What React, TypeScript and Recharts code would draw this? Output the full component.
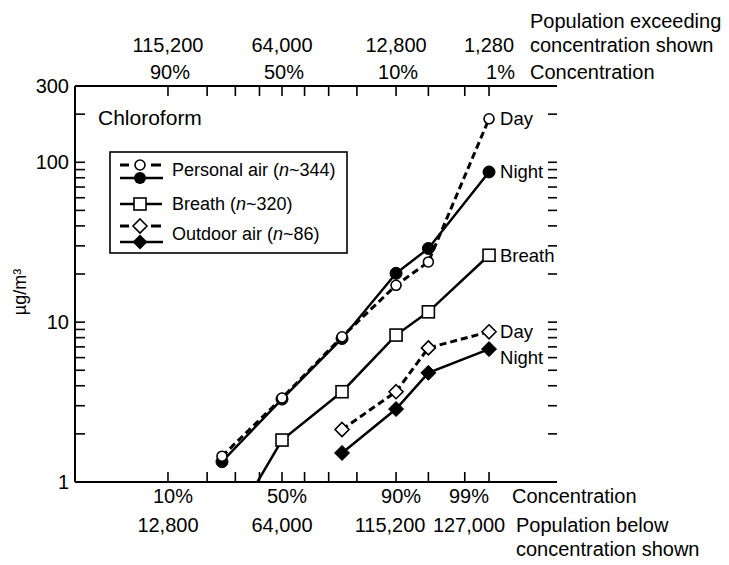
import React from 'react'
import { LineChart, Line, XAxis, YAxis, Legend, LabelList } from 'recharts'

// cumulative percentiles at which each series was sampled
const pcts = [25, 50, 75, 90, 95, 99]
const outdoorPcts = [75, 90, 95, 99]

// chloroform, µg/m3
const personalDay = [1.45, 3.35, 8.1, 17, 23.8, 187]
const personalNight = [1.34, 3.3, 7.9, 20.2, 28.9, 87]
const breath = [0.42, 1.83, 3.67, 8.3, 11.6, 26.2]
const outdoorDay = [2.13, 3.67, 6.9, 8.7]
const outdoorNight = [1.52, 2.86, 4.82, 6.78]

// probability axis
const probTicks = [10, 20, 30, 40, 50, 60, 70, 80, 90, 95, 98, 99]
const probLabeled = [10, 50, 90, 99]
const belowPctLabels = ['10%', '50%', '90%', '99%']
const belowPopLabels = ['12,800', '64,000', '115,200', '127,000']
const abovePctLabels = ['90%', '50%', '10%', '1%']
const abovePopLabels = ['115,200', '64,000', '12,800', '1,280']

// concentration axis
const concTicks = [1, 2, 3, 4, 5, 6, 7, 8, 9, 10, 20, 30, 40, 50, 60, 70, 80, 90, 100, 200, 300]
const concLabeled = [1, 10, 100, 300]

const FONT = '"Liberation Sans", Arial, Helvetica, sans-serif'

// inverse normal CDF (Acklam's rational approximation)
function probit(p: number): number {
  const a = [-3.969683028665376e1, 2.209460984245205e2, -2.759285104469687e2, 1.38357751867269e2, -3.066479806614716e1, 2.506628277459239]
  const b = [-5.447609879822406e1, 1.615858368580409e2, -1.556989798598866e2, 6.680131188771972e1, -1.328068155288572e1]
  const c = [-7.784894002430293e-3, -3.223964580411365e-1, -2.400758277161838, -2.549732539343734, 4.374664141464968, 2.938163982698783]
  const d = [7.784695709041462e-3, 3.224671290700398e-1, 2.445134137142996, 3.754408661907416]
  const tail = (q: number) =>
    (((((c[0] * q + c[1]) * q + c[2]) * q + c[3]) * q + c[4]) * q + c[5]) /
    ((((d[0] * q + d[1]) * q + d[2]) * q + d[3]) * q + 1)
  if (p < 0.02425) return tail(Math.sqrt(-2 * Math.log(p)))
  if (p > 1 - 0.02425) return -tail(Math.sqrt(-2 * Math.log(1 - p)))
  const q = p - 0.5
  const r = q * q
  return ((((((a[0] * r + a[1]) * r + a[2]) * r + a[3]) * r + a[4]) * r + a[5]) * q) /
    (((((b[0] * r + b[1]) * r + b[2]) * r + b[3]) * r + b[4]) * r + 1)
}

const Z_MIN = probit(0.01)
const Z_MAX = probit(0.999)
const probTickZ = probTicks.map((p) => probit(p / 100))

const rows = (ps: number[], vs: number[]) => ps.map((p, i) => ({ z: probit(p / 100), v: vs[i] }))

const pctOf = (z: number) => probTicks.find((p) => Math.abs(probit(p / 100) - z) < 1e-6)

const txt = { fontFamily: FONT, fontSize: 20, fill: '#000' }

function BottomTick(props: any) {
  const { x, y, payload } = props
  const pct = pctOf(payload.value)
  const k = probLabeled.indexOf(pct as number)
  const last = pct === 99
  // the 99% pair is pulled left so it clears the 90% pair
  const popX = last ? x - 20 : pct === 90 ? x - 6 : x
  return (
    <g>
      <line x1={x} x2={x} y1={y} y2={y - 10} stroke="#000" strokeWidth={1.6} />
      {k >= 0 && (
        <text x={last ? x : x + 5} y={y + 14} textAnchor={last ? 'end' : 'middle'} dominantBaseline="central" {...txt}>
          {belowPctLabels[k]}
        </text>
      )}
      {k >= 0 && (
        <text x={popX} y={y + 43} textAnchor="middle" dominantBaseline="central" {...txt}>
          {belowPopLabels[k]}
        </text>
      )}
    </g>
  )
}

function TopTick(props: any) {
  const { x, y, payload } = props
  const pct = pctOf(payload.value)
  const k = probLabeled.indexOf(pct as number)
  const last = pct === 99
  return (
    <g>
      <line x1={x} x2={x} y1={y} y2={y + 10} stroke="#000" strokeWidth={1.6} />
      {k >= 0 && (
        <text x={last ? x - 3 : x + 2} y={y - 14} textAnchor={last ? 'start' : 'middle'} dominantBaseline="central" {...txt}>
          {abovePctLabels[k]}
        </text>
      )}
      {k >= 0 && (
        <text x={x} y={y - 41} textAnchor="middle" dominantBaseline="central" {...txt}>
          {abovePopLabels[k]}
        </text>
      )}
    </g>
  )
}

function LeftTick(props: any) {
  const { x, y, payload } = props
  const labeled = concLabeled.includes(payload.value)
  return (
    <g>
      <line x1={x} x2={x + 10} y1={y} y2={y} stroke="#000" strokeWidth={1.6} />
      {labeled && (
        <text x={x - 6} y={y} textAnchor="end" dominantBaseline="central" {...txt}>
          {payload.value}
        </text>
      )}
    </g>
  )
}

function RightTick(props: any) {
  const { x, y } = props
  return <line x1={x} x2={x - 9} y1={y} y2={y} stroke="#000" strokeWidth={1.6} />
}

const BottomTitle = () => (
  <g>
    <text x={512} y={496} dominantBaseline="central" {...txt}>Concentration</text>
    <text x={516} y={525} dominantBaseline="central" {...txt}>Population below</text>
    <text x={516} y={549} dominantBaseline="central" {...txt}>concentration shown</text>
  </g>
)

const TopTitle = () => (
  <g>
    <text x={530} y={21} dominantBaseline="central" {...txt}>Population exceeding</text>
    <text x={530} y={45} dominantBaseline="central" {...txt}>concentration shown</text>
    <text x={530} y={72} dominantBaseline="central" {...txt}>Concentration</text>
  </g>
)

const UnitTitle = () => (
  <text x={20} y={292} transform="rotate(-90 20 292)" textAnchor="middle" dominantBaseline="central" {...txt} fontSize={18}>
    µg/m³
  </text>
)

const openCircle = (p: any) => <circle key={p.index} cx={p.cx} cy={p.cy} r={5} fill="#fff" stroke="#000" strokeWidth={1.6} />
const filledCircle = (p: any) => <circle key={p.index} cx={p.cx} cy={p.cy} r={6} fill="#000" stroke="#000" />
const openSquare = (p: any) =>
  p.payload.v < 1 ? <g key={p.index} /> : (
    <rect key={p.index} x={p.cx - 6} y={p.cy - 6} width={12} height={12} fill="#fff" stroke="#000" strokeWidth={1.6} />
  )
const diamondPts = (cx: number, cy: number, r: number) => `${cx},${cy - r} ${cx + r},${cy} ${cx},${cy + r} ${cx - r},${cy}`
const openDiamond = (p: any) => <polygon key={p.index} points={diamondPts(p.cx, p.cy, 7)} fill="#fff" stroke="#000" strokeWidth={1.6} />
const filledDiamond = (p: any) => <polygon key={p.index} points={diamondPts(p.cx, p.cy, 7.5)} fill="#000" stroke="#000" />

const endLabel = (text: string, last: number, dy = 0) => (props: any) => {
  if (props.index !== last) return null
  return (
    <text x={props.x + 11} y={props.y + dy} dominantBaseline="central" {...txt} fontSize={18.5}>
      {text}
    </text>
  )
}

function KeyBox() {
  const s = { fontFamily: FONT, fontSize: 18, fill: '#000' }
  return (
    <svg width={260} height={160} style={{ display: 'block', overflow: 'visible' }}>
      <text x={0} y={17} dominantBaseline="central" {...s} fontSize={21}>Chloroform</text>
      <rect x={12} y={52} width={237} height={101} fill="#fff" stroke="#000" strokeWidth={1.6} />
      {/* personal air */}
      <line x1={22} x2={31} y1={65} y2={65} stroke="#000" strokeWidth={3} />
      <line x1={53} x2={63} y1={65} y2={65} stroke="#000" strokeWidth={3} />
      <circle cx={42} cy={65} r={5} fill="#fff" stroke="#000" strokeWidth={1.6} />
      <line x1={22} x2={65} y1={78} y2={78} stroke="#000" strokeWidth={2.5} />
      <circle cx={42} cy={78} r={6} fill="#000" />
      <text x={74} y={70} dominantBaseline="central" {...s}>
        Personal air (<tspan fontStyle="italic">n</tspan>~344)
      </text>
      {/* breath */}
      <line x1={22} x2={64} y1={104} y2={104} stroke="#000" strokeWidth={2.5} />
      <rect x={36} y={98} width={12} height={12} fill="#fff" stroke="#000" strokeWidth={1.6} />
      <text x={74} y={104} dominantBaseline="central" {...s}>
        Breath (<tspan fontStyle="italic">n</tspan>~320)
      </text>
      {/* outdoor air */}
      <line x1={22} x2={31} y1={126} y2={126} stroke="#000" strokeWidth={3} />
      <line x1={53} x2={63} y1={126} y2={126} stroke="#000" strokeWidth={3} />
      <polygon points={diamondPts(42, 126, 7)} fill="#fff" stroke="#000" strokeWidth={1.6} />
      <line x1={22} x2={65} y1={142} y2={142} stroke="#000" strokeWidth={2.5} />
      <polygon points={diamondPts(42, 142, 7.5)} fill="#000" />
      <text x={74} y={134} dominantBaseline="central" {...s}>
        Outdoor air (<tspan fontStyle="italic">n</tspan>~86)
      </text>
    </svg>
  )
}

const axisLine = { stroke: '#000', strokeWidth: 2 }

export default function App() {
  return (
    <div style={{ position: 'fixed', left: 0, top: 0, width: 729, height: 565, background: '#fff' }}>
      <LineChart width={729} height={565} margin={{ top: 85, right: 171, bottom: 82, left: 74 }}>
        <XAxis
          xAxisId="b"
          type="number"
          dataKey="z"
          domain={[Z_MIN, Z_MAX]}
          allowDataOverflow
          ticks={probTickZ}
          interval={0}
          height={1}
          tickSize={0}
          tickMargin={0}
          tickLine={false}
          axisLine={axisLine}
          tick={<BottomTick />}
          label={{ content: BottomTitle }}
        />
        <XAxis
          xAxisId="t"
          orientation="top"
          type="number"
          dataKey="z"
          domain={[Z_MIN, Z_MAX]}
          allowDataOverflow
          ticks={probTickZ}
          interval={0}
          height={1}
          tickSize={0}
          tickMargin={0}
          tickLine={false}
          axisLine={axisLine}
          tick={<TopTick />}
          label={{ content: TopTitle }}
        />
        <YAxis
          yAxisId="l"
          type="number"
          scale="log"
          domain={[1, 300]}
          allowDataOverflow
          ticks={concTicks}
          interval={0}
          width={1}
          tickSize={0}
          tickMargin={0}
          tickLine={false}
          axisLine={axisLine}
          tick={<LeftTick />}
          label={{ content: UnitTitle }}
        />
        <YAxis
          yAxisId="r"
          orientation="right"
          type="number"
          scale="log"
          domain={[1, 300]}
          allowDataOverflow
          ticks={concTicks}
          interval={0}
          width={1}
          tickSize={0}
          tickMargin={0}
          tickLine={false}
          axisLine={false}
          tick={<RightTick />}
        />
        <Legend
          layout="vertical"
          align="center"
          verticalAlign="middle"
          wrapperStyle={{ left: 98, top: 100, width: 260, height: 160 }}
          content={() => <KeyBox />}
        />
        <Line xAxisId="b" yAxisId="l" data={rows(pcts, personalNight)} dataKey="v" stroke="#000" strokeWidth={2.5} dot={filledCircle} isAnimationActive={false}>
          <LabelList dataKey="v" content={endLabel('Night', pcts.length - 1)} />
        </Line>
        <Line xAxisId="b" yAxisId="l" data={rows(pcts, personalDay)} dataKey="v" stroke="#000" strokeWidth={3} strokeDasharray="7 4" dot={openCircle} isAnimationActive={false}>
          <LabelList dataKey="v" content={endLabel('Day', pcts.length - 1)} />
        </Line>
        <Line xAxisId="b" yAxisId="l" data={rows(pcts, breath)} dataKey="v" stroke="#000" strokeWidth={2.5} dot={openSquare} isAnimationActive={false}>
          <LabelList dataKey="v" content={endLabel('Breath', pcts.length - 1)} />
        </Line>
        <Line xAxisId="b" yAxisId="l" data={rows(outdoorPcts, outdoorNight)} dataKey="v" stroke="#000" strokeWidth={2.5} dot={filledDiamond} isAnimationActive={false}>
          <LabelList dataKey="v" content={endLabel('Night', outdoorPcts.length - 1, 8)} />
        </Line>
        <Line xAxisId="b" yAxisId="l" data={rows(outdoorPcts, outdoorDay)} dataKey="v" stroke="#000" strokeWidth={3} strokeDasharray="7 4" dot={openDiamond} isAnimationActive={false}>
          <LabelList dataKey="v" content={endLabel('Day', outdoorPcts.length - 1)} />
        </Line>
      </LineChart>
    </div>
  )
}
